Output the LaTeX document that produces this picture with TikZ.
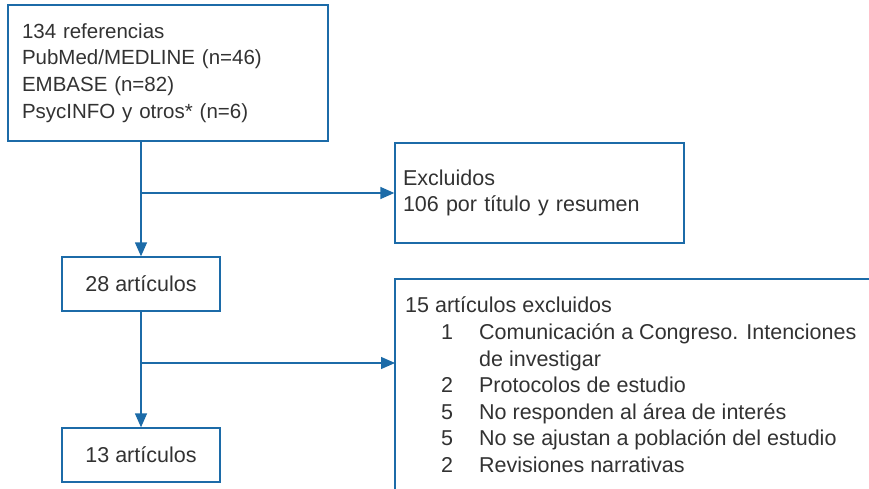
\documentclass[tikz,border=0pt]{standalone}
\usepackage{fontspec}
\setmainfont{Liberation Sans}
\usetikzlibrary{arrows.meta}
\definecolor{lineblue}{RGB}{28,107,168}
\definecolor{txtgray}{RGB}{50,50,50}
\begin{document}
\begin{tikzpicture}[x=1pt,y=-1pt,
  box/.style={draw=lineblue,line width=1.3pt,rectangle,inner sep=0pt,text=txtgray,
    font=\fontsize{21.5}{26.6}\selectfont},
  txt/.style={text=txtgray,inner sep=0pt,font=\fontsize{21.5}{26.6}\selectfont,align=left},
  ln/.style={draw=lineblue,line width=1.3pt},
  arr/.style={draw=lineblue,line width=1.3pt,-{Triangle[length=14pt,width=12pt]}}]
\useasboundingbox (0,0) rectangle (869,489);
% boxes
\node[box,minimum width=320pt,minimum height=136pt,text width=292pt,align=left,
  font=\fontsize{20.5}{26.6}\selectfont] (src) at (168,73)
  {134 referencias\\PubMed/MEDLINE (n=46)\\EMBASE (n=82)\\PsycINFO y otros* (n=6)};
\node[box,minimum width=289pt,minimum height=100pt,text width=273pt,align=left] (exc1) at (539.5,193)
  {Excluidos\\106 por título y resumen};
\node[box,minimum width=158pt,minimum height=54pt] (a28) at (141,284) {28 artículos};
\node[box,minimum width=158pt,minimum height=54pt] (a13) at (141,455) {13 artículos};
\node[anchor=north west,inner sep=0pt,minimum width=474pt,minimum height=210pt] (exc2) at (395,279) {};
\draw[ln] (exc2.north east) -- (exc2.north west) -- (exc2.south west);
\node[txt,anchor=north west] (exc2t) at (405,294) {%
  \begin{tabular}{@{\hspace{36pt}}r@{\hspace{26pt}}l@{}}
  \multicolumn{2}{@{}l@{}}{15 artículos excluidos}\\
  1 & Comunicación a Congreso. Intenciones\\
    & de investigar\\
  2 & Protocolos de estudio\\
  5 & No responden al área de interés\\
  5 & No se ajustan a población del estudio\\
  2 & Revisiones narrativas
  \end{tabular}};
% connectors
\coordinate (b1) at (141,193);
\coordinate (b2) at (141,363);
\draw[arr] (a28.north |- src.south) -- (a28.north);
\draw[arr] (b1) -- (b1 -| exc1.west);
\draw[arr] (a28.south) -- (a13.north);
\draw[arr] (b2) -- (b2 -| exc2.west);
\end{tikzpicture}
\end{document}
